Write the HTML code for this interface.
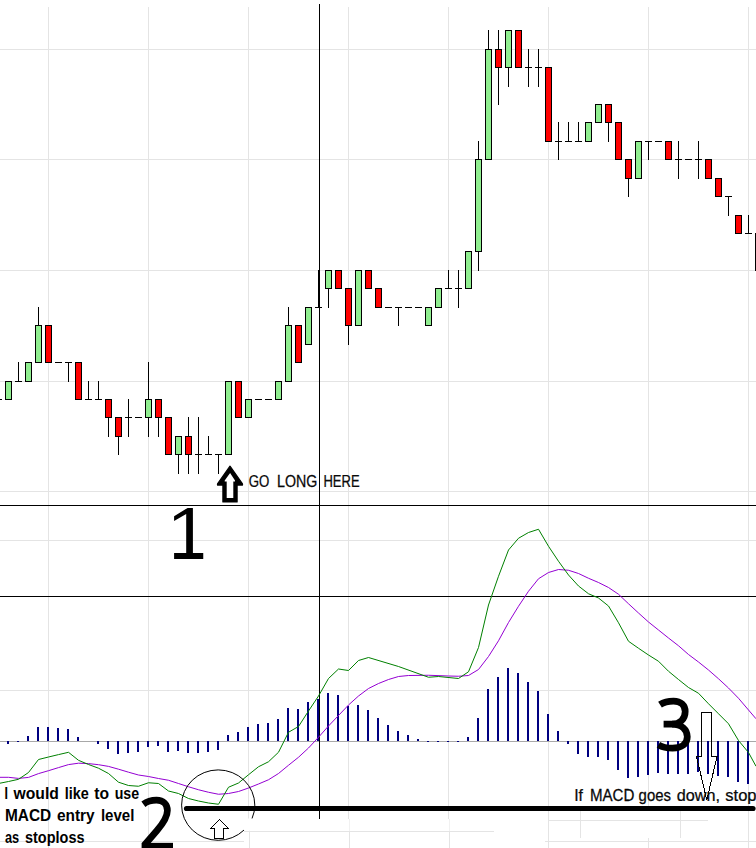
<!DOCTYPE html>
<html><head><meta charset="utf-8"><title>chart</title>
<style>html,body{margin:0;padding:0;background:#fff;overflow:hidden}svg text{font-family:"Liberation Sans",sans-serif}</style></head>
<body>
<svg width="756" height="848" viewBox="0 0 756 848" style="display:block">
<rect width="756" height="848" fill="#fff"/>
<g shape-rendering="crispEdges">
<rect x="48" y="7" width="1" height="841" fill="#e4e4e4"/>
<rect x="148" y="7" width="1" height="841" fill="#e4e4e4"/>
<rect x="548" y="7" width="1" height="841" fill="#e4e4e4"/>
<rect x="748" y="7" width="1" height="841" fill="#e4e4e4"/>
<rect x="248" y="7" width="1" height="811.5" fill="#e4e4e4"/>
<rect x="348" y="7" width="1" height="811.5" fill="#e4e4e4"/>
<rect x="448" y="7" width="1" height="811.5" fill="#e4e4e4"/>
<rect x="648" y="7" width="1" height="804" fill="#e4e4e4"/>
<rect x="648" y="837.5" width="1" height="10.5" fill="#e4e4e4"/>
<rect x="0" y="49" width="756" height="1" fill="#e4e4e4"/>
<rect x="0" y="159" width="756" height="1" fill="#e4e4e4"/>
<rect x="0" y="270" width="756" height="1" fill="#e4e4e4"/>
<rect x="0" y="381" width="756" height="1" fill="#e4e4e4"/>
<rect x="0" y="491" width="756" height="1" fill="#e4e4e4"/>
<rect x="0" y="540" width="756" height="1" fill="#e4e4e4"/>
<rect x="0" y="690" width="756" height="1" fill="#e4e4e4"/>
<rect x="0" y="841" width="244" height="1" fill="#e4e4e4"/>
<rect x="244" y="831" width="250" height="1" fill="#e4e4e4"/>
<rect x="249" y="819" width="1" height="12" fill="#f1f1f1"/>
<rect x="249" y="831" width="1" height="17" fill="#e4e4e4"/>
<rect x="349" y="819" width="1" height="12" fill="#f1f1f1"/>
<rect x="349" y="831" width="1" height="17" fill="#e4e4e4"/>
<rect x="449" y="819" width="1" height="12" fill="#f1f1f1"/>
<rect x="449" y="831" width="1" height="17" fill="#e4e4e4"/>
<rect x="549" y="820" width="158.5" height="1" fill="#e4e4e4"/>
<rect x="580" y="811" width="1" height="26.5" fill="#e4e4e4"/>
<rect x="680" y="811" width="1" height="26.5" fill="#e4e4e4"/>
<rect x="545" y="841" width="211" height="1" fill="#e4e4e4"/>
<rect x="0" y="741" width="756" height="1" fill="#a8a8a8"/>
<rect x="7" y="741" width="2" height="3" fill="#000080"/>
<rect x="17" y="741" width="2" height="1" fill="#000080"/>
<rect x="27" y="736" width="2" height="5" fill="#000080"/>
<rect x="37" y="727" width="2" height="14" fill="#000080"/>
<rect x="47" y="727" width="2" height="14" fill="#000080"/>
<rect x="57" y="728" width="2" height="13" fill="#000080"/>
<rect x="67" y="729" width="2" height="12" fill="#000080"/>
<rect x="77" y="737" width="2" height="4" fill="#000080"/>
<rect x="97" y="741" width="2" height="3" fill="#000080"/>
<rect x="107" y="741" width="2" height="8" fill="#000080"/>
<rect x="117" y="741" width="2" height="13" fill="#000080"/>
<rect x="127" y="741" width="2" height="12" fill="#000080"/>
<rect x="137" y="741" width="2" height="11" fill="#000080"/>
<rect x="147" y="741" width="2" height="6" fill="#000080"/>
<rect x="157" y="741" width="2" height="5" fill="#000080"/>
<rect x="167" y="741" width="2" height="11" fill="#000080"/>
<rect x="177" y="741" width="2" height="10" fill="#000080"/>
<rect x="187" y="741" width="2" height="12" fill="#000080"/>
<rect x="197" y="741" width="2" height="12" fill="#000080"/>
<rect x="207" y="741" width="2" height="11" fill="#000080"/>
<rect x="217" y="741" width="2" height="9" fill="#000080"/>
<rect x="227" y="735" width="2" height="6" fill="#000080"/>
<rect x="237" y="732" width="2" height="9" fill="#000080"/>
<rect x="247" y="727" width="2" height="14" fill="#000080"/>
<rect x="257" y="724" width="2" height="17" fill="#000080"/>
<rect x="267" y="723" width="2" height="18" fill="#000080"/>
<rect x="277" y="719" width="2" height="22" fill="#000080"/>
<rect x="287" y="708" width="2" height="33" fill="#000080"/>
<rect x="297" y="709" width="2" height="32" fill="#000080"/>
<rect x="307" y="702" width="2" height="39" fill="#000080"/>
<rect x="317" y="699" width="2" height="42" fill="#000080"/>
<rect x="327" y="693" width="2" height="48" fill="#000080"/>
<rect x="337" y="695" width="2" height="46" fill="#000080"/>
<rect x="347" y="706" width="2" height="35" fill="#000080"/>
<rect x="357" y="705" width="2" height="36" fill="#000080"/>
<rect x="367" y="710" width="2" height="31" fill="#000080"/>
<rect x="377" y="718" width="2" height="23" fill="#000080"/>
<rect x="387" y="725" width="2" height="16" fill="#000080"/>
<rect x="397" y="731" width="2" height="10" fill="#000080"/>
<rect x="407" y="735" width="2" height="6" fill="#000080"/>
<rect x="417" y="739" width="2" height="2" fill="#000080"/>
<rect x="427" y="741" width="2" height="1" fill="#000080"/>
<rect x="437" y="741" width="2" height="1" fill="#000080"/>
<rect x="447" y="741" width="2" height="1" fill="#000080"/>
<rect x="457" y="741" width="2" height="1" fill="#000080"/>
<rect x="467" y="737" width="2" height="4" fill="#000080"/>
<rect x="477" y="718" width="2" height="23" fill="#000080"/>
<rect x="487" y="689" width="2" height="52" fill="#000080"/>
<rect x="497" y="677" width="2" height="64" fill="#000080"/>
<rect x="507" y="668" width="2" height="73" fill="#000080"/>
<rect x="517" y="673" width="2" height="68" fill="#000080"/>
<rect x="527" y="682" width="2" height="59" fill="#000080"/>
<rect x="537" y="691" width="2" height="50" fill="#000080"/>
<rect x="547" y="714" width="2" height="27" fill="#000080"/>
<rect x="557" y="731" width="2" height="10" fill="#000080"/>
<rect x="567" y="741" width="2" height="3" fill="#000080"/>
<rect x="577" y="741" width="2" height="13" fill="#000080"/>
<rect x="587" y="741" width="2" height="16" fill="#000080"/>
<rect x="597" y="741" width="2" height="16" fill="#000080"/>
<rect x="607" y="741" width="2" height="19" fill="#000080"/>
<rect x="617" y="741" width="2" height="29" fill="#000080"/>
<rect x="627" y="741" width="2" height="37" fill="#000080"/>
<rect x="637" y="741" width="2" height="36" fill="#000080"/>
<rect x="647" y="741" width="2" height="34" fill="#000080"/>
<rect x="657" y="741" width="2" height="32" fill="#000080"/>
<rect x="667" y="741" width="2" height="33" fill="#000080"/>
<rect x="677" y="741" width="2" height="33" fill="#000080"/>
<rect x="687" y="741" width="2" height="33" fill="#000080"/>
<rect x="697" y="741" width="2" height="31" fill="#000080"/>
<rect x="707" y="741" width="2" height="33" fill="#000080"/>
<rect x="717" y="741" width="2" height="35" fill="#000080"/>
<rect x="727" y="741" width="2" height="36" fill="#000080"/>
<rect x="737" y="741" width="2" height="41" fill="#000080"/>
<rect x="747" y="741" width="2" height="43" fill="#000080"/>
<rect x="0" y="505" width="756" height="1" fill="#000"/>
<rect x="0" y="596" width="756" height="1" fill="#000"/>
<rect x="319" y="4" width="1" height="814.5" fill="#000"/>
<rect x="-5" y="399" width="7" height="1" fill="#000"/>
<rect x="5" y="381" width="7" height="19" fill="#000"/>
<rect x="6" y="382" width="5" height="17" fill="#90ee90"/>
<rect x="18" y="362" width="1" height="20" fill="#000"/>
<rect x="15" y="381" width="7" height="1" fill="#000"/>
<rect x="25" y="362" width="7" height="20" fill="#000"/>
<rect x="26" y="363" width="5" height="18" fill="#90ee90"/>
<rect x="38" y="307" width="1" height="56" fill="#000"/>
<rect x="35" y="325" width="7" height="38" fill="#000"/>
<rect x="36" y="326" width="5" height="36" fill="#90ee90"/>
<rect x="45" y="325" width="7" height="38" fill="#000"/>
<rect x="46" y="326" width="5" height="36" fill="#ff0000"/>
<rect x="55" y="362" width="7" height="1" fill="#000"/>
<rect x="68" y="362" width="1" height="20" fill="#000"/>
<rect x="65" y="362" width="7" height="1" fill="#000"/>
<rect x="75" y="362" width="7" height="38" fill="#000"/>
<rect x="76" y="363" width="5" height="36" fill="#ff0000"/>
<rect x="88" y="381" width="1" height="19" fill="#000"/>
<rect x="85" y="399" width="7" height="1" fill="#000"/>
<rect x="98" y="381" width="1" height="19" fill="#000"/>
<rect x="95" y="399" width="7" height="1" fill="#000"/>
<rect x="108" y="399" width="1" height="38" fill="#000"/>
<rect x="105" y="399" width="7" height="19" fill="#000"/>
<rect x="106" y="400" width="5" height="17" fill="#ff0000"/>
<rect x="118" y="417" width="1" height="38" fill="#000"/>
<rect x="115" y="417" width="7" height="20" fill="#000"/>
<rect x="116" y="418" width="5" height="18" fill="#ff0000"/>
<rect x="128" y="399" width="1" height="38" fill="#000"/>
<rect x="125" y="417" width="7" height="1" fill="#000"/>
<rect x="135" y="417" width="7" height="1" fill="#000"/>
<rect x="148" y="362" width="1" height="75" fill="#000"/>
<rect x="145" y="399" width="7" height="19" fill="#000"/>
<rect x="146" y="400" width="5" height="17" fill="#90ee90"/>
<rect x="158" y="399" width="1" height="38" fill="#000"/>
<rect x="155" y="399" width="7" height="19" fill="#000"/>
<rect x="156" y="400" width="5" height="17" fill="#ff0000"/>
<rect x="165" y="417" width="7" height="38" fill="#000"/>
<rect x="166" y="418" width="5" height="36" fill="#ff0000"/>
<rect x="178" y="436" width="1" height="38" fill="#000"/>
<rect x="175" y="436" width="7" height="19" fill="#000"/>
<rect x="176" y="437" width="5" height="17" fill="#90ee90"/>
<rect x="188" y="417" width="1" height="57" fill="#000"/>
<rect x="185" y="436" width="7" height="19" fill="#000"/>
<rect x="186" y="437" width="5" height="17" fill="#ff0000"/>
<rect x="198" y="417" width="1" height="57" fill="#000"/>
<rect x="195" y="454" width="7" height="1" fill="#000"/>
<rect x="208" y="436" width="1" height="19" fill="#000"/>
<rect x="205" y="454" width="7" height="1" fill="#000"/>
<rect x="218" y="454" width="1" height="20" fill="#000"/>
<rect x="215" y="454" width="7" height="1" fill="#000"/>
<rect x="225" y="381" width="7" height="74" fill="#000"/>
<rect x="226" y="382" width="5" height="72" fill="#90ee90"/>
<rect x="235" y="381" width="7" height="37" fill="#000"/>
<rect x="236" y="382" width="5" height="35" fill="#ff0000"/>
<rect x="245" y="399" width="7" height="19" fill="#000"/>
<rect x="246" y="400" width="5" height="17" fill="#90ee90"/>
<rect x="255" y="399" width="7" height="1" fill="#000"/>
<rect x="265" y="399" width="7" height="1" fill="#000"/>
<rect x="275" y="381" width="7" height="19" fill="#000"/>
<rect x="276" y="382" width="5" height="17" fill="#90ee90"/>
<rect x="288" y="307" width="1" height="75" fill="#000"/>
<rect x="285" y="325" width="7" height="57" fill="#000"/>
<rect x="286" y="326" width="5" height="55" fill="#90ee90"/>
<rect x="295" y="325" width="7" height="38" fill="#000"/>
<rect x="296" y="326" width="5" height="36" fill="#ff0000"/>
<rect x="305" y="307" width="7" height="38" fill="#000"/>
<rect x="306" y="308" width="5" height="36" fill="#90ee90"/>
<rect x="318" y="270" width="1" height="38" fill="#000"/>
<rect x="315" y="307" width="7" height="1" fill="#000"/>
<rect x="328" y="270" width="1" height="38" fill="#000"/>
<rect x="325" y="270" width="7" height="19" fill="#000"/>
<rect x="326" y="271" width="5" height="17" fill="#90ee90"/>
<rect x="335" y="270" width="7" height="19" fill="#000"/>
<rect x="336" y="271" width="5" height="17" fill="#ff0000"/>
<rect x="348" y="288" width="1" height="57" fill="#000"/>
<rect x="345" y="288" width="7" height="38" fill="#000"/>
<rect x="346" y="289" width="5" height="36" fill="#ff0000"/>
<rect x="355" y="270" width="7" height="56" fill="#000"/>
<rect x="356" y="271" width="5" height="54" fill="#90ee90"/>
<rect x="365" y="270" width="7" height="19" fill="#000"/>
<rect x="366" y="271" width="5" height="17" fill="#ff0000"/>
<rect x="375" y="288" width="7" height="20" fill="#000"/>
<rect x="376" y="289" width="5" height="18" fill="#ff0000"/>
<rect x="385" y="307" width="7" height="1" fill="#000"/>
<rect x="398" y="307" width="1" height="19" fill="#000"/>
<rect x="395" y="307" width="7" height="1" fill="#000"/>
<rect x="405" y="307" width="7" height="1" fill="#000"/>
<rect x="415" y="307" width="7" height="1" fill="#000"/>
<rect x="425" y="307" width="7" height="19" fill="#000"/>
<rect x="426" y="308" width="5" height="17" fill="#90ee90"/>
<rect x="435" y="288" width="7" height="20" fill="#000"/>
<rect x="436" y="289" width="5" height="18" fill="#90ee90"/>
<rect x="448" y="270" width="1" height="19" fill="#000"/>
<rect x="445" y="288" width="7" height="1" fill="#000"/>
<rect x="458" y="270" width="1" height="38" fill="#000"/>
<rect x="455" y="288" width="7" height="1" fill="#000"/>
<rect x="465" y="251" width="7" height="38" fill="#000"/>
<rect x="466" y="252" width="5" height="36" fill="#90ee90"/>
<rect x="478" y="141" width="1" height="130" fill="#000"/>
<rect x="475" y="159" width="7" height="93" fill="#000"/>
<rect x="476" y="160" width="5" height="91" fill="#90ee90"/>
<rect x="488" y="30" width="1" height="130" fill="#000"/>
<rect x="485" y="49" width="7" height="111" fill="#000"/>
<rect x="486" y="50" width="5" height="109" fill="#90ee90"/>
<rect x="498" y="30" width="1" height="75" fill="#000"/>
<rect x="495" y="49" width="7" height="19" fill="#000"/>
<rect x="496" y="50" width="5" height="17" fill="#ff0000"/>
<rect x="508" y="30" width="1" height="57" fill="#000"/>
<rect x="505" y="30" width="7" height="38" fill="#000"/>
<rect x="506" y="31" width="5" height="36" fill="#90ee90"/>
<rect x="515" y="30" width="7" height="38" fill="#000"/>
<rect x="516" y="31" width="5" height="36" fill="#ff0000"/>
<rect x="528" y="49" width="1" height="38" fill="#000"/>
<rect x="525" y="67" width="7" height="1" fill="#000"/>
<rect x="538" y="49" width="1" height="38" fill="#000"/>
<rect x="535" y="67" width="7" height="1" fill="#000"/>
<rect x="545" y="67" width="7" height="75" fill="#000"/>
<rect x="546" y="68" width="5" height="73" fill="#ff0000"/>
<rect x="558" y="122" width="1" height="38" fill="#000"/>
<rect x="555" y="141" width="7" height="1" fill="#000"/>
<rect x="568" y="122" width="1" height="20" fill="#000"/>
<rect x="565" y="141" width="7" height="1" fill="#000"/>
<rect x="578" y="122" width="1" height="20" fill="#000"/>
<rect x="575" y="141" width="7" height="1" fill="#000"/>
<rect x="585" y="122" width="7" height="20" fill="#000"/>
<rect x="586" y="123" width="5" height="18" fill="#90ee90"/>
<rect x="595" y="104" width="7" height="19" fill="#000"/>
<rect x="596" y="105" width="5" height="17" fill="#90ee90"/>
<rect x="608" y="104" width="1" height="38" fill="#000"/>
<rect x="605" y="104" width="7" height="19" fill="#000"/>
<rect x="606" y="105" width="5" height="17" fill="#ff0000"/>
<rect x="615" y="122" width="7" height="38" fill="#000"/>
<rect x="616" y="123" width="5" height="36" fill="#ff0000"/>
<rect x="628" y="159" width="1" height="38" fill="#000"/>
<rect x="625" y="159" width="7" height="20" fill="#000"/>
<rect x="626" y="160" width="5" height="18" fill="#ff0000"/>
<rect x="635" y="141" width="7" height="38" fill="#000"/>
<rect x="636" y="142" width="5" height="36" fill="#90ee90"/>
<rect x="648" y="141" width="1" height="19" fill="#000"/>
<rect x="645" y="141" width="7" height="1" fill="#000"/>
<rect x="655" y="141" width="7" height="1" fill="#000"/>
<rect x="665" y="141" width="7" height="19" fill="#000"/>
<rect x="666" y="142" width="5" height="17" fill="#ff0000"/>
<rect x="678" y="141" width="1" height="38" fill="#000"/>
<rect x="675" y="159" width="7" height="1" fill="#000"/>
<rect x="685" y="159" width="7" height="1" fill="#000"/>
<rect x="698" y="141" width="1" height="38" fill="#000"/>
<rect x="695" y="159" width="7" height="1" fill="#000"/>
<rect x="705" y="159" width="7" height="20" fill="#000"/>
<rect x="706" y="160" width="5" height="18" fill="#ff0000"/>
<rect x="715" y="178" width="7" height="19" fill="#000"/>
<rect x="716" y="179" width="5" height="17" fill="#ff0000"/>
<rect x="728" y="196" width="1" height="20" fill="#000"/>
<rect x="725" y="196" width="7" height="1" fill="#000"/>
<rect x="735" y="215" width="7" height="19" fill="#000"/>
<rect x="736" y="216" width="5" height="17" fill="#ff0000"/>
<rect x="748" y="215" width="1" height="19" fill="#000"/>
<rect x="745" y="233" width="7" height="1" fill="#000"/>
<rect x="755" y="233" width="7" height="38" fill="#000"/>
<rect x="756" y="234" width="5" height="36" fill="#ff0000"/>
</g>
<polyline points="0,777.3 8.5,777.3 18.5,778.4 28.5,777.4 38.5,773.6 48.5,770.7 58.5,767.6 68.5,764.6 78.5,763.2 88.5,763.6 98.5,764.7 108.5,766.4 118.5,769.2 128.5,772.2 138.5,775 148.5,776.5 158.5,778.5 168.5,780.25 178.5,783.5 188.5,786.75 198.5,789.75 208.5,792.25 218.5,794.25 228.5,793.5 238.5,791.5 248.5,788 258.5,784 268.5,779.75 278.5,773.5 288.5,765.25 298.5,757.25 308.5,748 318.5,737.25 328.5,726 338.5,715.5 348.5,705 358.5,696 368.5,688.5 378.5,683.5 388.5,679.5 398.5,676.5 408.5,675.5 428.5,675.25 448.5,676 458.5,676.25 468.5,675.5 478.5,669.5 488.5,656.5 498.5,640.75 508.5,622.5 518.5,606.25 528.5,591.25 538.5,578.75 548.5,572.5 558.5,569.5 568.5,570.25 578.5,573.5 588.5,578.25 598.5,582.5 608.5,587.5 618.5,594.25 628.5,603.75 638.5,613 648.5,622 658.5,630 668.5,638 678.5,645.75 688.5,654.5 698.5,662 708.5,670 718.5,678.75 728.5,688 738.5,698.25 748.5,710 756,718.75" fill="none" stroke="#9400d3" stroke-width="1" stroke-linejoin="round"/>
<polyline points="0,783.2 8.5,781.5 18.5,779.3 28.5,772.5 38.5,759.5 48.5,757 58.5,754.6 68.5,752.3 78.5,760.3 88.5,764.5 98.5,768.2 108.5,773.5 118.5,782.2 128.5,785.5 138.5,786.25 148.5,782.75 158.5,783.5 168.5,791 178.5,793.5 188.5,798.5 198.5,801 208.5,803 218.5,804.25 228.5,787.25 238.5,783 248.5,774.75 258.5,766.75 268.5,761.75 278.5,752.25 288.5,732.25 298.5,726.5 308.5,711 318.5,696 328.5,678.5 338.5,669 348.5,670.5 358.5,660.5 368.5,657.5 398.5,666.5 428.5,677.25 438.5,676.5 458.5,678.5 468.5,671.75 478.5,647.5 488.5,605 498.5,576.25 508.5,550 518.5,538.25 528.5,532.5 538.5,529.25 548.5,546.25 558.5,561.25 568.5,575 578.5,586 588.5,593.75 598.5,598 608.5,606 618.5,622.75 628.5,641.25 638.5,648.25 648.5,655 658.5,661.25 668.5,671.25 678.5,679.5 688.5,687.5 698.5,693.25 708.5,703.75 718.5,713.75 728.5,723.75 738.5,740.5 748.5,752.5 756,766.25" fill="none" stroke="#008000" stroke-width="1" stroke-linejoin="round"/>
<line x1="186.5" y1="808.5" x2="753" y2="808.5" stroke="#000" stroke-width="5.2" stroke-linecap="round"/>
<ellipse cx="218.2" cy="805.1" rx="36.6" ry="35.2" fill="none" stroke="#000" stroke-width="1"/>
<rect x="244" y="818.5" width="14" height="12" fill="#fff"/>
<path d="M219.5 819.5 L228.5 828.5 L223.5 828.5 L223.5 838.5 L214.5 838.5 L214.5 828.5 L210.5 828.5 Z" fill="none" stroke="#000" stroke-width="1" shape-rendering="crispEdges"/>
<path d="M230 466.2 L242.5 483.9 L242.5 485.1 L237.1 485.1 L237.1 502 L222.9 502 L222.9 485.1 L217.5 485.1 L217.5 483.9 Z" fill="#000" stroke="#000" stroke-width="1.2" stroke-linejoin="round"/><path d="M230.1 472.9 L235 480.4 L235 481.6 L233.3 481.6 L233.3 497.9 L226.7 497.9 L226.7 481.6 L224.7 481.6 L224.7 480.4 Z" fill="#fff"/>
<path d="M701.5 712.5 L711.5 712.5 L711.5 756.5 L717 756.5 L706.8 800 L696.5 756.5 L701.5 756.5 Z" fill="none" stroke="#000" stroke-width="1" shape-rendering="crispEdges"/>
<text transform="translate(248.80,487) scale(0.8280,1)" font-family="Liberation Sans, sans-serif" font-size="16" stroke="#000" stroke-width="0.25" fill="#0a0a0a">GO</text>
<text transform="translate(277.00,487) scale(0.8884,1)" font-family="Liberation Sans, sans-serif" font-size="16" stroke="#000" stroke-width="0.25" fill="#0a0a0a">LONG</text>
<text transform="translate(323.40,487) scale(0.8138,1)" font-family="Liberation Sans, sans-serif" font-size="16" stroke="#000" stroke-width="0.25" fill="#0a0a0a">HERE</text>
<text transform="translate(574.20,801) scale(0.9821,1)" font-family="Liberation Sans, sans-serif" font-size="16" stroke="#000" stroke-width="0.25" fill="#0a0a0a">If</text>
<text transform="translate(589.90,801) scale(0.9444,1)" font-family="Liberation Sans, sans-serif" font-size="16" stroke="#000" stroke-width="0.25" fill="#0a0a0a">MACD</text>
<text transform="translate(638.60,801) scale(0.9332,1)" font-family="Liberation Sans, sans-serif" font-size="16" stroke="#000" stroke-width="0.25" fill="#0a0a0a">goes</text>
<text transform="translate(676.70,801) scale(1.0136,1)" font-family="Liberation Sans, sans-serif" font-size="16" stroke="#000" stroke-width="0.25" fill="#0a0a0a">down,</text>
<text transform="translate(725.30,801) scale(1.0351,1)" font-family="Liberation Sans, sans-serif" font-size="16" stroke="#000" stroke-width="0.25" fill="#0a0a0a">stop</text>
<text transform="translate(4.60,799) scale(0.7812,1)" font-family="Liberation Sans, sans-serif" font-size="16" font-weight="bold" fill="#000">I</text>
<text transform="translate(13.58,799) scale(0.9801,1)" font-family="Liberation Sans, sans-serif" font-size="16" font-weight="bold" fill="#000">would</text>
<text transform="translate(64.80,799) scale(0.9019,1)" font-family="Liberation Sans, sans-serif" font-size="16" font-weight="bold" fill="#000">like</text>
<text transform="translate(94.20,799) scale(0.9788,1)" font-family="Liberation Sans, sans-serif" font-size="16" font-weight="bold" fill="#000">to</text>
<text transform="translate(114.70,799) scale(0.8877,1)" font-family="Liberation Sans, sans-serif" font-size="16" font-weight="bold" fill="#000">use</text>
<text transform="translate(4.90,821) scale(0.9646,1)" font-family="Liberation Sans, sans-serif" font-size="16" font-weight="bold" fill="#000">MACD</text>
<text transform="translate(56.90,821) scale(0.9637,1)" font-family="Liberation Sans, sans-serif" font-size="16" font-weight="bold" fill="#000">entry</text>
<text transform="translate(100.90,821) scale(0.9410,1)" font-family="Liberation Sans, sans-serif" font-size="16" font-weight="bold" fill="#000">level</text>
<text transform="translate(4.90,843) scale(0.7995,1)" font-family="Liberation Sans, sans-serif" font-size="16" font-weight="bold" fill="#000">as</text>
<text transform="translate(25.00,843) scale(0.9048,1)" font-family="Liberation Sans, sans-serif" font-size="16" font-weight="bold" fill="#000">stoploss</text>
<path d="M187.6 507.9 L192.9 507.9 L192.9 553 L203.25 553 L203.25 558.9 L174.1 558.9 L174.1 553 L186.2 553 L186.2 514.1 L174.1 521 L174.1 516.3 Z" fill="#000"/>
<g fill="none" stroke="#000" stroke-width="6.7" stroke-linecap="butt" stroke-linejoin="round">
<path d="M143.4 804.2 C147 801.5 151.5 800.2 156.5 800.2 C163.5 800.2 167.4 804.5 167.4 810.5 C167.4 817 163.5 823 157 830.5 L144.5 845"/>
<path d="M141.6 846.2 L173 846.2"/>
<path d="M660 704.6 C663.5 702.3 668 701.1 673.5 701.1 C681 701.1 685.2 705.5 685.2 711.5 C685.2 719 680 724.1 672 724.1 L663.6 724.1"/>
<path d="M672 724.1 C681.5 724.1 687.3 729.5 687.3 736.8 C687.3 744 681.5 748.2 672.5 748.2 C667 748.2 662 747 658.4 744.9"/>
</g>
</svg>
</body></html>
